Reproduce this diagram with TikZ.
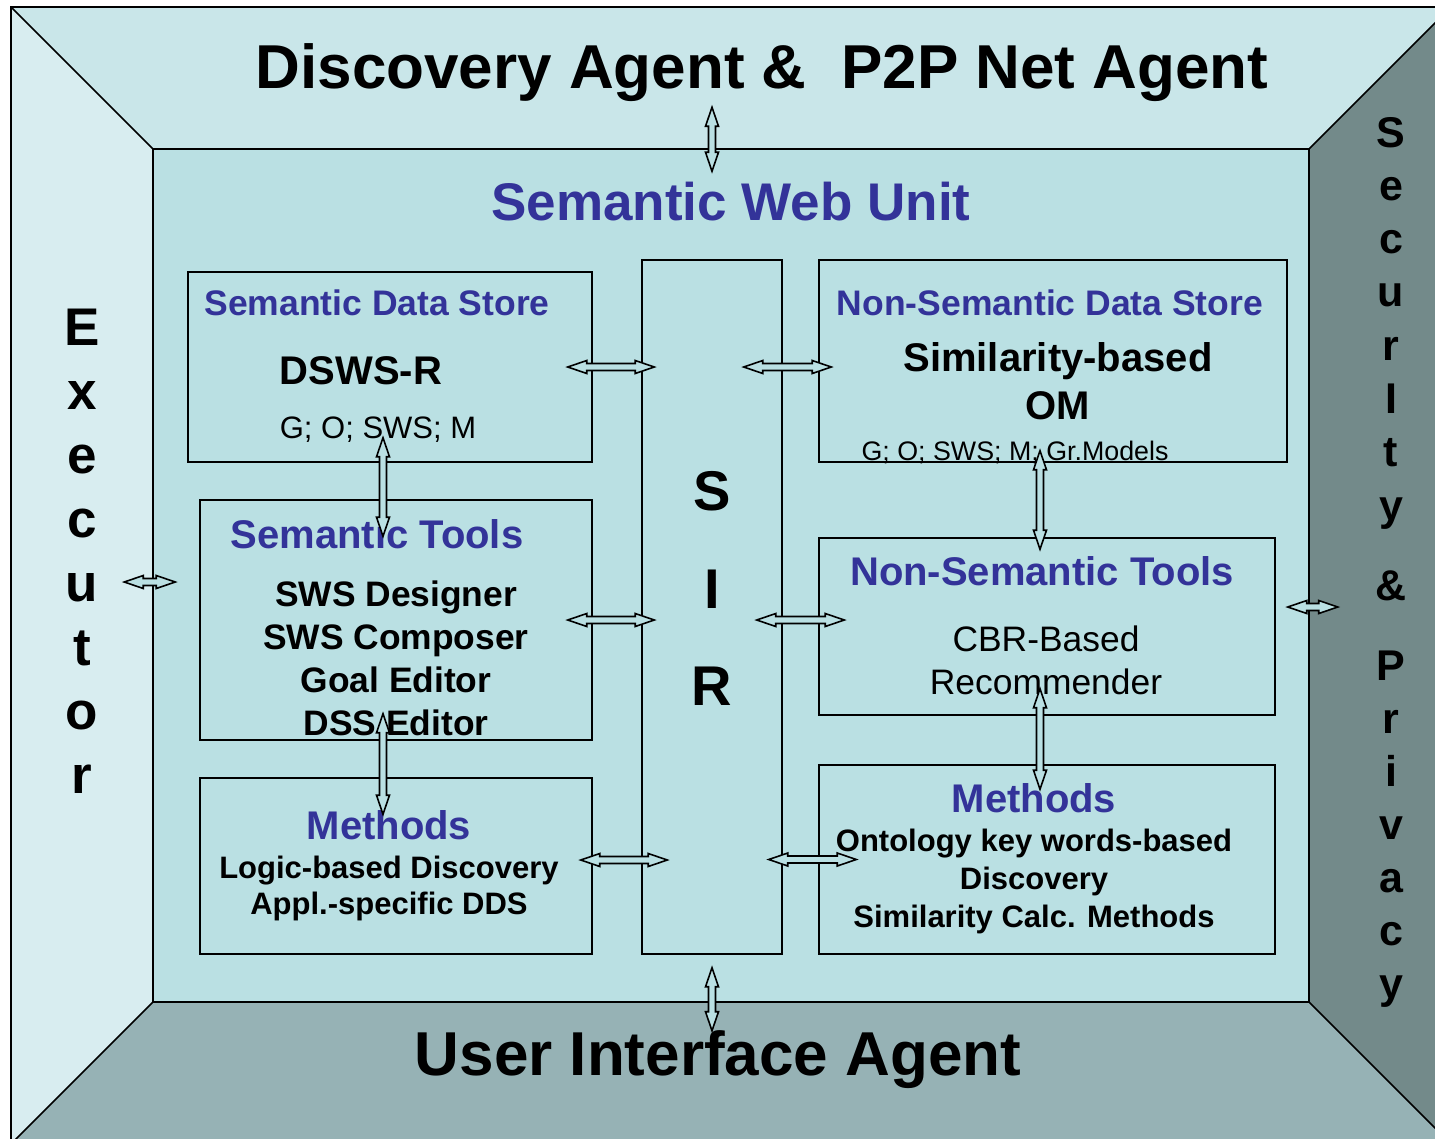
\documentclass[tikz,border=0pt]{standalone}
\usepackage{fontspec}
\setmainfont{Liberation Sans}
\usetikzlibrary{calc}
\definecolor{topc}{HTML}{C9E6E9}
\definecolor{leftc}{HTML}{D8EDF0}
\definecolor{facec}{HTML}{BAE0E3}
\definecolor{botc}{HTML}{96B2B5}
\definecolor{rightc}{HTML}{738A8A}
\definecolor{unitblue}{RGB}{51,51,153}
\newcommand{\fsz}[1]{\fontsize{#1}{#1}\selectfont}
\tikzset{
  box/.style={draw, line width=1.5pt, inner sep=0pt},
  blu/.style={text=unitblue, anchor=base, inner sep=0pt},
  blk/.style={text=black, anchor=base, inner sep=0pt},
  blockarrow/.style={draw, fill=facec, line width=1.6pt, line join=miter,
    to path={(\tikztostart)
      -- ($(\tikztostart)!19pt!(\tikztotarget)!6.5pt!90:(\tikztotarget)$)
      -- ($(\tikztostart)!19pt!(\tikztotarget)!3.5pt!90:(\tikztotarget)$)
      -- ($(\tikztotarget)!19pt!(\tikztostart)!3.5pt!-90:(\tikztostart)$)
      -- ($(\tikztotarget)!19pt!(\tikztostart)!6.5pt!-90:(\tikztostart)$)
      -- (\tikztotarget)
      -- ($(\tikztotarget)!19pt!(\tikztostart)!6.5pt!90:(\tikztostart)$)
      -- ($(\tikztotarget)!19pt!(\tikztostart)!3.5pt!90:(\tikztostart)$)
      -- ($(\tikztostart)!19pt!(\tikztotarget)!3.5pt!-90:(\tikztotarget)$)
      -- ($(\tikztostart)!19pt!(\tikztotarget)!6.5pt!-90:(\tikztotarget)$)
      -- cycle}}
}
\begin{document}
\begin{tikzpicture}[x=1pt, y=-1pt]
  \useasboundingbox (0,0) rectangle (1435,1138);
  \clip (0,0) rectangle (1435,1138);
  % walls of the room
  \fill[topc] (11,7) -- (1451,7) -- (1309,149) -- (153,149) -- cycle;
  \fill[leftc] (11,7) -- (153,149) -- (153,1002) -- (11,1144) -- cycle;
  \fill[rightc] (1451,7) -- (1309,149) -- (1309,1002) -- (1451,1144) -- cycle;
  \fill[botc] (153,1002) -- (1309,1002) -- (1451,1144) -- (11,1144) -- cycle;
  \draw[line width=1.8pt] (11,7) rectangle (1451,1144);
  \draw[line width=1.5pt] (11,7) -- (153,149) (1451,7) -- (1309,149)
    (11,1144) -- (153,1002) (1451,1144) -- (1309,1002);
  \node[box, fill=facec, minimum width=1156, minimum height=853] (face) at (731,575.5) {};

  % agents around the unit
  \node[blk, font=\fsz{62}\bfseries] (dpa) at (762,88) {Discovery Agent \& \ P2P Net Agent};
  \node[blk, font=\fsz{62}\bfseries] (uia) at (718,1075) {User Interface Agent};
  \foreach \ch [count=\i from 0] in {E,x,e,c,u,t,o,r}
    \node[blk, font=\fsz{53}\bfseries] (ex\i) at (82,{345+64*\i}) {\ch};
  \foreach \ch [count=\i from 0] in {S,e,c,u,r,I,t,y}
    \node[blk, font=\fsz{43}\bfseries] (sec\i) at (1391,{147+53.3*\i}) {\ch};
  \node[blk, font=\fsz{43}\bfseries] (amp) at (1391,600) {\&};
  \foreach \ch [count=\i from 0] in {P,r,i,v,a,c,y}
    \node[blk, font=\fsz{43}\bfseries] (prv\i) at (1391,{680+53*\i}) {\ch};

  \node[blu, font=\fsz{53}\bfseries] (swu) at (731,220) {Semantic Web Unit};

  % boxes
  \node[box, minimum width=404, minimum height=190] (sds) at (390,367) {};
  \node[box, minimum width=392, minimum height=240] (stl) at (396,620) {};
  \node[box, minimum width=392, minimum height=176] (mtl) at (396,866) {};
  \node[box, minimum width=140, minimum height=694] (sir) at (712,607) {};
  \node[box, minimum width=468, minimum height=202] (nsds) at (1053,361) {};
  \node[box, minimum width=456, minimum height=177] (nstl) at (1047,626.5) {};
  \node[box, minimum width=456, minimum height=189] (mtr) at (1047,859.5) {};

  % box texts
  \node[blu, font=\fsz{35.5}\bfseries] (sdsT) at (377,315) {Semantic Data Store};
  \node[blk, font=\fsz{40}\bfseries] (sdsA) at (361,384) {DSWS-R};
  \node[blk, font=\fsz{31}] (sdsB) at (378,438) {G; O; SWS; M};

  \node[blu, font=\fsz{40}\bfseries] (stlT) at (377,548) {Semantic Tools};
  \foreach \txt [count=\i from 0] in {SWS Designer,SWS Composer,Goal Editor,DSS Editor}
    \node[blk, font=\fsz{35.4}\bfseries] (stl\i) at (396,{606+43*\i}) {\txt};

  \node[blu, font=\fsz{40}\bfseries] (mtlT) at (389,839) {Methods};
  \node[blk, font=\fsz{31}\bfseries] (mtlA) at (389,878) {Logic-based Discovery};
  \node[blk, font=\fsz{31}\bfseries] (mtlB) at (389,914) {Appl.-specific DDS};

  \node[blk, font=\fsz{56}\bfseries] (sirS) at (712,510) {S};
  \node[blk, font=\fsz{56}\bfseries] (sirI) at (712,608) {I};
  \node[blk, font=\fsz{56}\bfseries] (sirR) at (712,705) {R};

  \node[blu, font=\fsz{35.5}\bfseries] (nsdsT) at (1050,315) {Non-Semantic Data Store};
  \node[blk, font=\fsz{40}\bfseries] (nsdsA) at (1058,371) {Similarity-based};
  \node[blk, font=\fsz{40}\bfseries] (nsdsB) at (1058,419) {OM};
  \node[blk, font=\fsz{26.8}] (nsdsC) at (1015,460) {G; O; SWS; M; Gr.Models};

  \node[blu, font=\fsz{40}\bfseries] (nstlT) at (1042,585) {Non-Semantic Tools};
  \node[blk, font=\fsz{35.4}] (nstlA) at (1046,651) {CBR-Based};
  \node[blk, font=\fsz{35.4}] (nstlB) at (1046,694) {Recommender};

  \node[blu, font=\fsz{40}\bfseries] (mtrT) at (1034,812) {Methods};
  \node[blk, font=\fsz{31}\bfseries] (mtrA) at (1034,851) {Ontology key words-based};
  \node[blk, font=\fsz{31}\bfseries] (mtrB) at (1034,889) {Discovery};
  \node[blk, font=\fsz{31}\bfseries] (mtrC) at (1034,927) {Similarity Calc. Methods};

  % block arrows
  \draw[blockarrow] ($(sds.east)+(-25,0)$) to ($(sir.west |- sds.east)+(13,0)$);
  \draw[blockarrow] ($(sir.east |- sds.east)+(-39,0)$) to ($(nsds.west |- sds.east)+(13,0)$);
  \draw[blockarrow] ($(stl.east)+(-25,0)$) to ($(sir.west |- stl.east)+(13,0)$);
  \draw[blockarrow] ($(sir.east |- stl.east)+(-26,0)$) to ($(nstl.west |- stl.east)+(26,0)$);
  \draw[blockarrow] ($(mtl.east)+(-12,-6)$) to ($(sir.west |- mtl.east)+(26,-6)$);
  \draw[blockarrow] ($(sir.east |- mtr.west)+(-14,0)$) to ($(mtr.west)+(38,0)$);
  \draw[blockarrow] ($(face.west)+(-28,6.5)$) to ($(face.west)+(23,6.5)$);
  \draw[blockarrow] ($(face.east)+(-22,31.5)$) to ($(face.east)+(28,31.5)$);
  \draw[blockarrow] ($(sir.north |- face.north)+(0,-41)$) to ($(sir.north |- face.north)+(0,23)$);
  \draw[blockarrow] ($(sir.south |- face.south)+(0,-35)$) to ($(sir.south |- face.south)+(0,28)$);
  \draw[blockarrow] ($(sds.south)+(-7,-25)$) to ($(stl.north)+(-13,37)$);
  \draw[blockarrow] ($(stl.south)+(-13,-27)$) to ($(mtl.north)+(-13,37)$);
  \draw[blockarrow] ($(nsds.south)+(-13,-12)$) to ($(nstl.north)+(-7,12)$);
  \draw[blockarrow] ($(nstl.south)+(-7,-27)$) to ($(mtr.north)+(-7,25)$);
\end{tikzpicture}
\end{document}
